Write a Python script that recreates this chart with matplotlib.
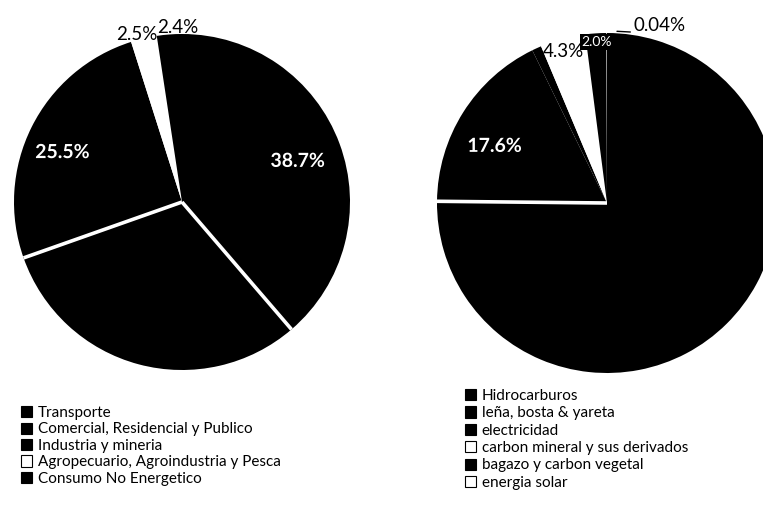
import numpy as np
import matplotlib
matplotlib.use("Agg")
import matplotlib.pyplot as plt
from matplotlib.patches import Patch
import matplotlib.patheffects as pe

plt.rcParams['font.family'] = ['Lato', 'DejaVu Sans']

# ---- data ----
left_labels = ["Transporte", "Comercial, Residencial y Publico", "Industria y mineria",
               "Agropecuario, Agroindustria y Pesca", "Consumo No Energetico"]
left_values = [38.7, 30.9, 25.5, 2.5, 2.4]
left_colors = ["black", "black", "black", "white", "black"]
left_text = ["38.7%", None, "25.5%", "2.5%", "2.4%"]

right_labels = ["Hidrocarburos", "leña, bosta & yareta", "electricidad",
                "carbon mineral y sus derivados", "bagazo y carbon vegetal", "energia solar"]
right_values = [75.16, 17.6, 0.9, 4.3, 2.0, 0.04]
right_colors = ["black", "black", "black", "white", "black", "white"]
right_text = [None, "17.6%", None, "4.3%", "2.0%", "0.04%"]

W, H = 763, 516
fig = plt.figure(figsize=(W / 100, H / 100), dpi=100)


def px_axes(cx, cy, r):
    return fig.add_axes([(cx - r) / W, (H - cy - r) / H, 2 * r / W, 2 * r / H])


def draw_pie(ax, values, colors, separators):
    wedges, _ = ax.pie(values, colors=colors, startangle=90, counterclock=False,
                       radius=1.0, wedgeprops=dict(edgecolor="none", linewidth=0))
    # white separator lines only where the slice borders remain visible
    for i in separators:
        a = np.deg2rad(wedges[i].theta1)
        ax.plot([0, np.cos(a)], [0, np.sin(a)], color="white", lw=2.6,
                solid_capstyle="butt")
    ax.set_xlim(-1, 1)
    ax.set_ylim(-1, 1)
    ax.set_aspect("equal")
    ax.axis("off")
    return wedges


def label_pos(w, rf, dang=0.0):
    ang = np.deg2rad((w.theta1 + w.theta2) / 2 + dang)
    return rf * np.cos(ang), rf * np.sin(ang)


outline = [pe.withStroke(linewidth=2.4, foreground="black")]
inner_kw = dict(color="white", fontsize=14, fontweight="bold", ha="center",
                va="center", path_effects=outline)
outer_kw = dict(color="black", fontsize=13.5, ha="center", va="center", clip_on=False)

# ---- left pie ----
axL = px_axes(182, 202, 168)
wl = draw_pie(axL, left_values, left_colors, separators=[0, 1])
axL.text(*label_pos(wl[0], 0.73, -1.0), left_text[0], **inner_kw)
axL.text(*label_pos(wl[2], 0.77, 4.0), left_text[2], **inner_kw)
axL.text(*label_pos(wl[3], 1.03, 2.0), left_text[3], **outer_kw)
axL.text(*label_pos(wl[4], 1.04, -3.0), left_text[4], **outer_kw)

# ---- right pie ----
axR = px_axes(607, 203, 170)
wr = draw_pie(axR, right_values, right_colors, separators=[0])
axR.text(*label_pos(wr[1], 0.74, 5.5), right_text[1], **inner_kw)
axR.text(*label_pos(wr[3], 0.93, 1.0), right_text[3], **outer_kw)
axR.text(*label_pos(wr[4], 0.95), right_text[4], color="white", fontsize=10,
         ha="center", va="center",
         bbox=dict(facecolor="black", edgecolor="none", pad=1.2))
x, y = label_pos(wr[5], 1.0)
axR.annotate(right_text[5], xy=(x + 0.06, y + 0.01), xytext=(x + 0.155, y + 0.045),
             fontsize=13.5, color="black", ha="left", va="center",
             arrowprops=dict(arrowstyle="-", color="black", lw=1, shrinkA=0, shrinkB=0,
                             relpos=(0, 0.1)),
             annotation_clip=False)

# ---- legends ----
hl = [Patch(facecolor=c, edgecolor="black", linewidth=0.8) for c in left_colors]
fig.legend(hl, left_labels, loc="upper left", bbox_to_anchor=(21 / W, 1 - 406 / H),
           frameon=False, fontsize=11, handlelength=0.75, handleheight=0.75,
           handletextpad=0.35, labelspacing=0.16, borderaxespad=0, borderpad=0)
hr = [Patch(facecolor=c, edgecolor="black", linewidth=0.8) for c in right_colors]
fig.legend(hr, right_labels, loc="upper left", bbox_to_anchor=(465 / W, 1 - 389 / H),
           frameon=False, fontsize=11, handlelength=0.75, handleheight=0.75,
           handletextpad=0.35, labelspacing=0.22, borderaxespad=0, borderpad=0)

fig.savefig("out.png", dpi=100)
